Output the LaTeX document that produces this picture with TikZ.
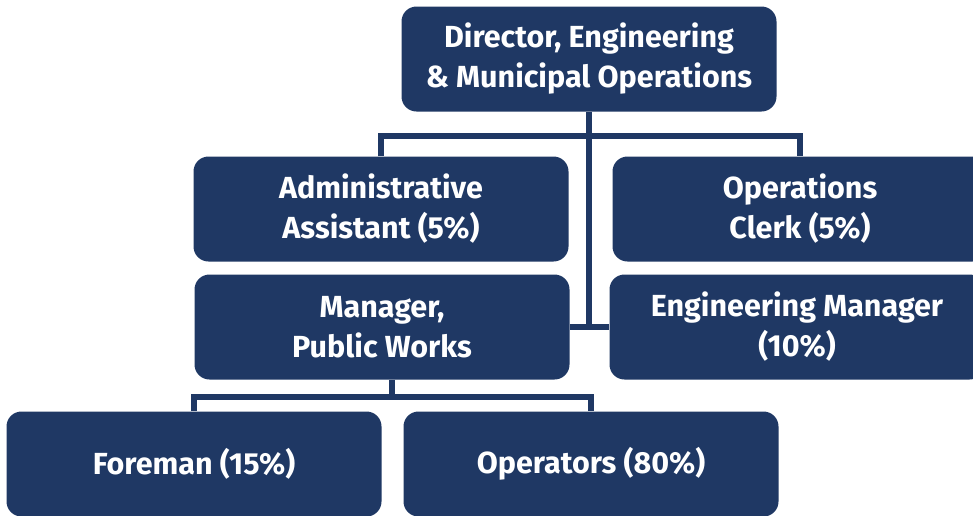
\documentclass[tikz,border=0pt]{standalone}
\usepackage{fontspec}
\setmainfont{Fira Sans}
\definecolor{navy}{HTML}{1F3864}
\tikzset{
    unit/.style={fill=navy, text=white, rounded corners=15pt, minimum width=375pt,
        minimum height=105pt, inner sep=0pt, align=center,
        font=\bfseries\fontsize{30.5}{40}\selectfont},
    link/.style={draw=navy, line width=6pt}
}

\begin{document}
\begin{tikzpicture}[x=1pt, y=-1pt]
\useasboundingbox (0,0) rectangle (973,515);

% Top
\node[unit] (dir) at (589,59) {Director, Engineering\\\& Municipal Operations};

% Second and third rows
\node[unit] (admin) at (381,209) {Administrative\\Assistant (5\%)};
\node[unit] (clerk) at (800,209) {Operations\\Clerk (5\%)};
\node[unit] (mgr)   at (382,327) {Manager,\\Public Works};
\node[unit] (engm)  at (797,327) {Engineering Manager\\(10\%)};

% Bottom row
\node[unit] (fore) at (194,464) {Foreman (15\%)};
\node[unit] (oper) at (591,464) {Operators (80\%)};

% Connectors
\coordinate (topbar) at (589,136);
\coordinate (lowbar) at (392,397);
\draw[link] (admin.north) |- (topbar) -| (clerk.north);
\draw[link] (dir.south) -- (dir.south |- mgr.east);
\draw[link] (mgr.east) -- (engm.west);
\draw[link] (mgr.south -| lowbar) -- (lowbar);
\draw[link] (fore.north) |- (lowbar) -| (oper.north);

\end{tikzpicture}
\end{document}
